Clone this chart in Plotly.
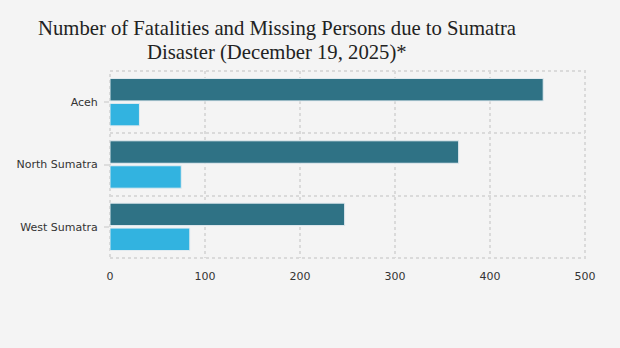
import plotly.graph_objects as go

regions = ["Aceh", "North Sumatra", "West Sumatra"]
fatalities = [456, 367, 247]
missing = [31, 75, 84]
x_ticks = [0, 100, 200, 300, 400, 500]
title_lines = ["Number of Fatalities and Missing Persons due to Sumatra",
               "Disaster (December 19, 2025)*"]

pos = list(range(len(regions)))
GRID = "#dadada"

fig = go.Figure()
fig.add_trace(go.Bar(
    y=pos, x=fatalities, orientation="h", name="Fatalities",
    marker=dict(color="#2f7285", line=dict(color="#e3ebf0", width=1)),
))
fig.add_trace(go.Bar(
    y=pos, x=missing, orientation="h", name="Missing",
    marker=dict(color="#32b3e0", line=dict(color="#e3ebf0", width=1)),
))

fig.update_layout(
    width=620, height=348,
    paper_bgcolor="#f4f4f4", plot_bgcolor="#f4f4f4",
    margin=dict(l=110, r=35, t=71, b=90),
    barmode="group", bargap=0.2, bargroupgap=0.1,
    showlegend=False,
    font=dict(family="DejaVu Sans", size=11, color="#333333"),
)

for txt, yy in zip(title_lines, [1.2246, 1.0963]):
    fig.add_annotation(
        text=txt, xref="paper", yref="paper", x=(277 - 110) / 475, y=yy,
        xanchor="center", yanchor="middle", showarrow=False,
        font=dict(family="Liberation Serif", size=20.7, color="#222222"),
    )

fig.add_shape(type="rect", xref="x domain", yref="y domain",
              x0=0, x1=1, y0=0, y1=1, layer="below",
              line=dict(color=GRID, width=2, dash="dot"))

fig.update_xaxes(
    range=[0, 500], tickvals=x_ticks, ticktext=[str(v) for v in x_ticks],
    showgrid=True, gridcolor=GRID, griddash="dot", gridwidth=2,
    zeroline=False, showline=False, ticks="", ticklabelstandoff=10,
    tickfont=dict(size=11, color="#333333"),
)
fig.update_yaxes(
    range=[2.5, -0.5], tickvals=pos, ticktext=regions,
    showgrid=False, zeroline=False, showline=False,
    ticks="outside", ticklen=5, tickcolor="#dddddd", tickwidth=2,
    ticklabelstandoff=4,
    minor=dict(tickvals=[-0.5, 0.5, 1.5, 2.5], showgrid=True,
               gridcolor=GRID, griddash="dot", gridwidth=2, ticks=""),
    tickfont=dict(size=11, color="#333333"),
)

fig.write_html("out.html")
